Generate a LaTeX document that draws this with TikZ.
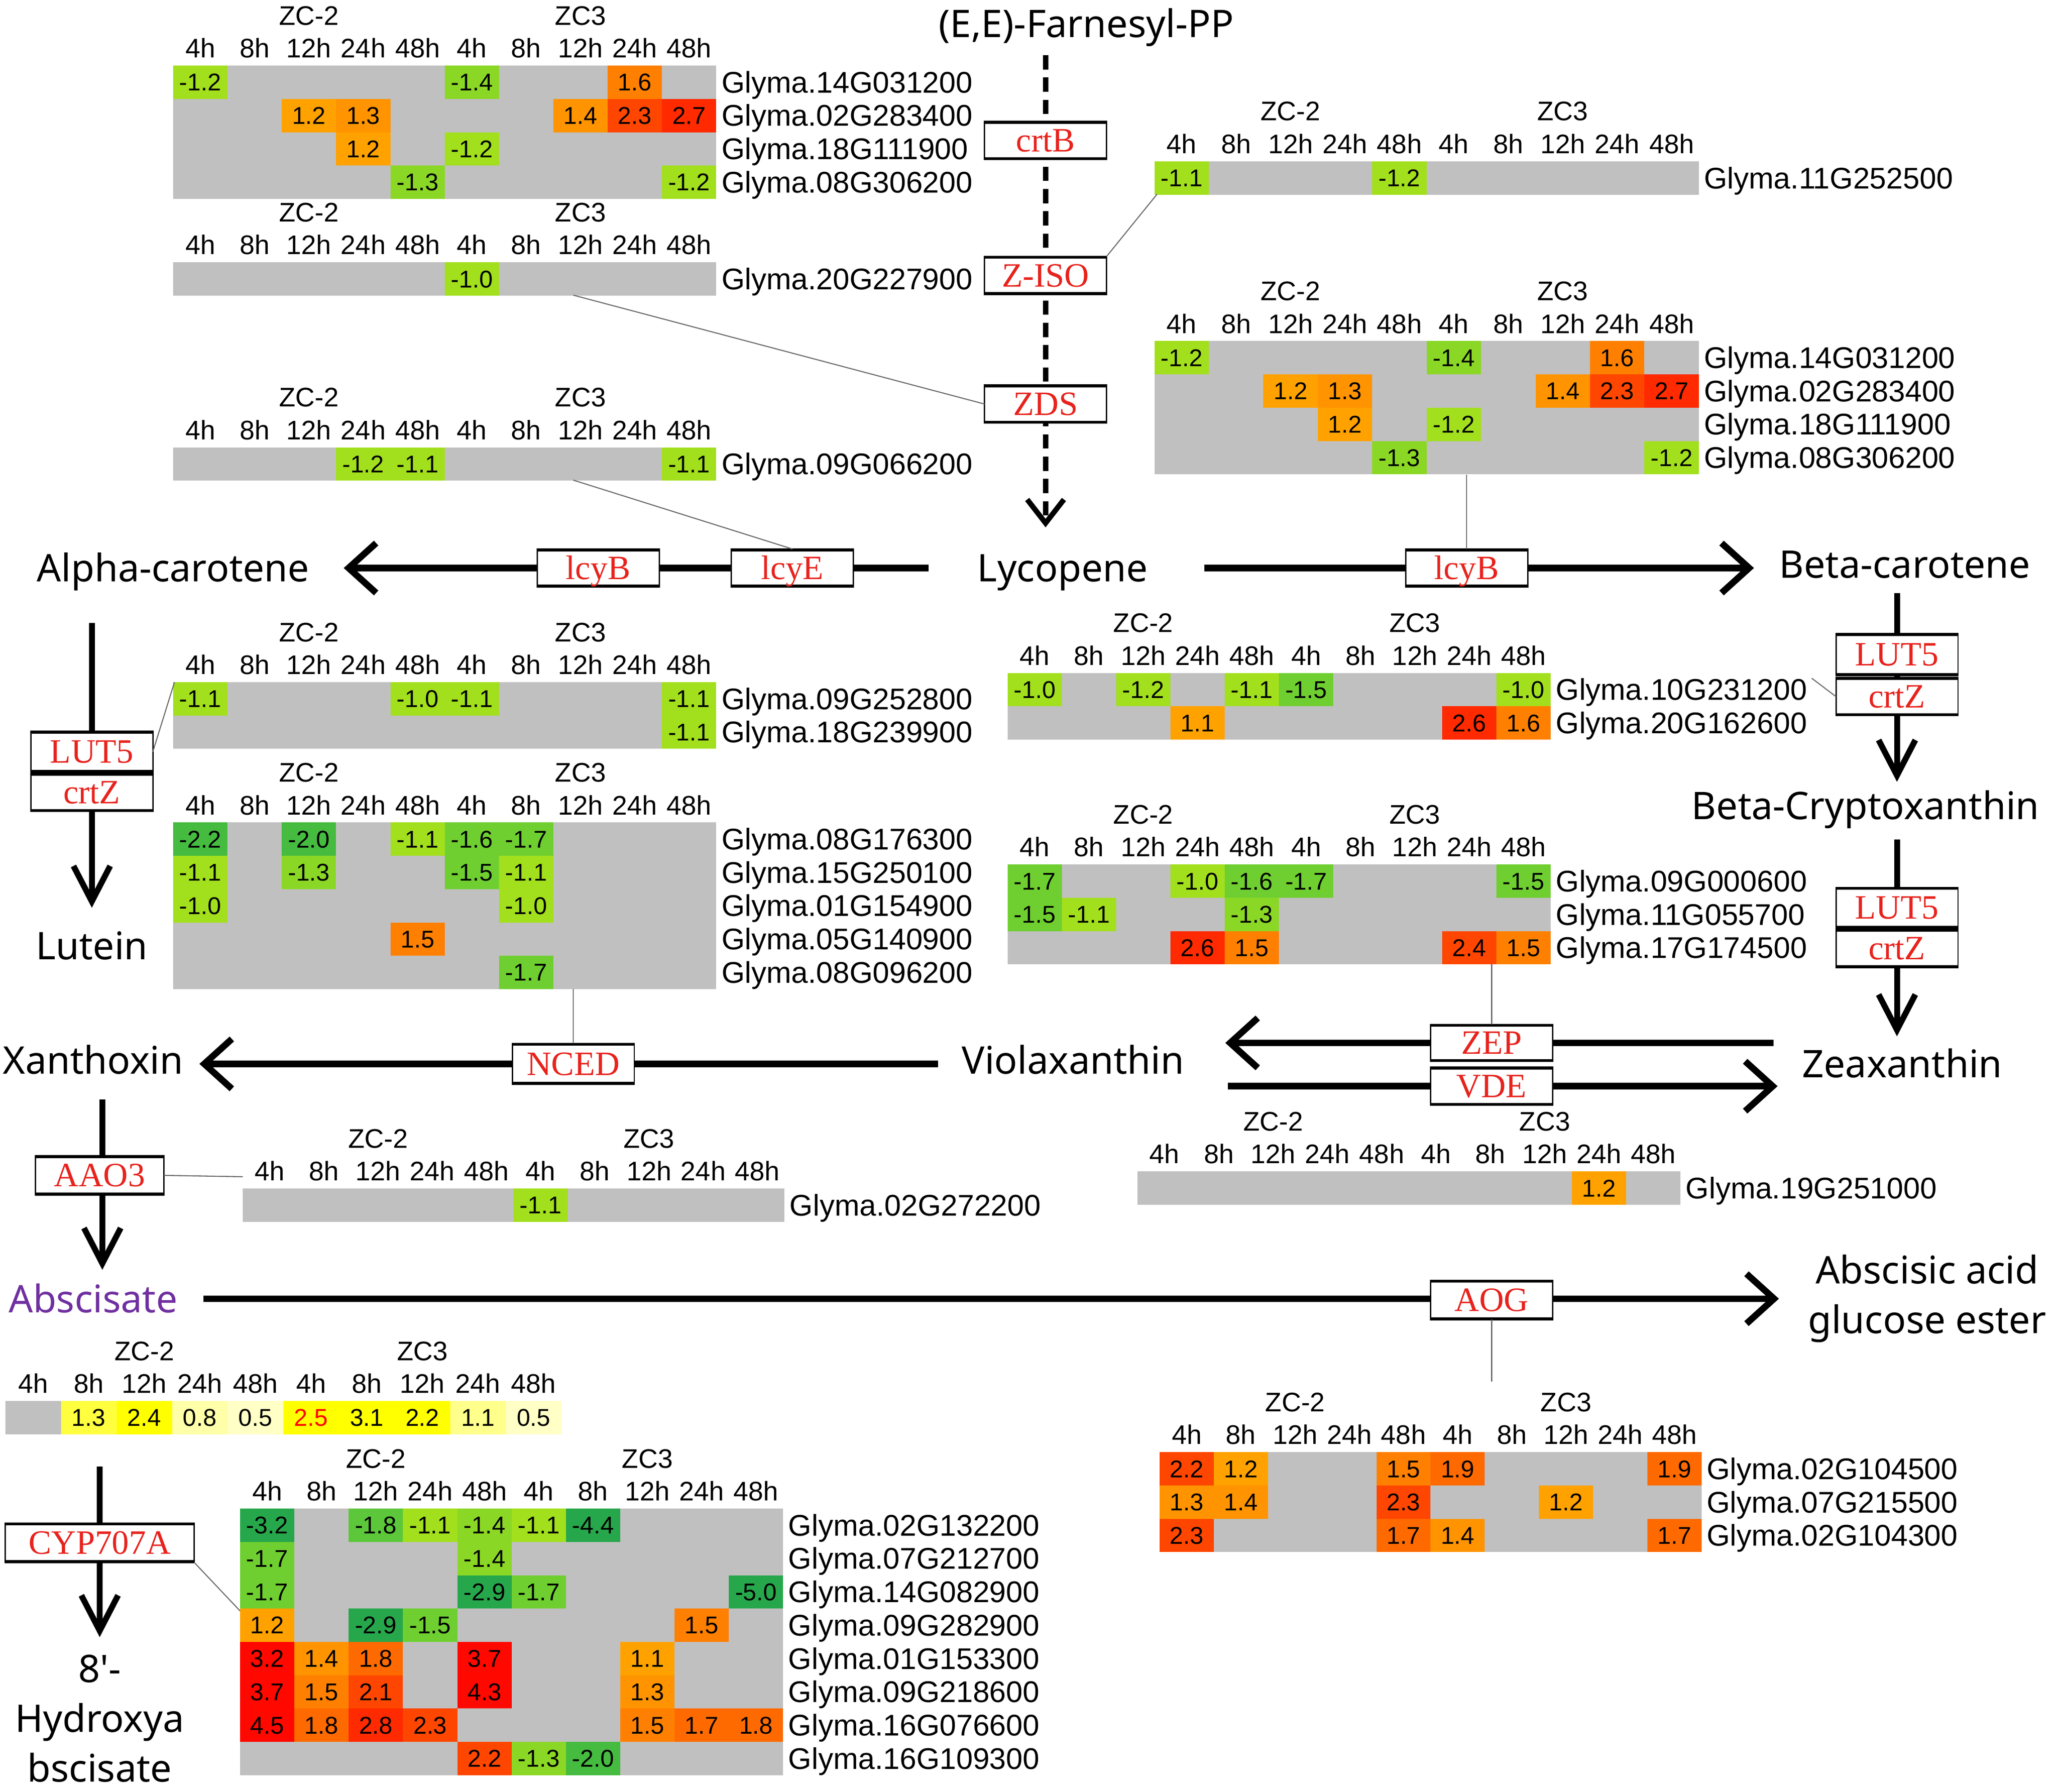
\documentclass[tikz,border=0pt]{standalone}
\usepackage{fontspec}
\setmainfont{Liberation Sans}
\newfontfamily\pathfont{Noto Sans}
\newfontfamily\enzfont{Liberation Serif}
\usetikzlibrary{arrows.meta}

\definecolor{hmgray}{HTML}{C0C0C0}
\definecolor{hmg0}{HTML}{A2DF1D}
\definecolor{hmg1}{HTML}{8BD726}
\definecolor{hmg2}{HTML}{6FCF30}
\definecolor{hmg3}{HTML}{5CC73A}
\definecolor{hmg4}{HTML}{45BB40}
\definecolor{hmg5}{HTML}{27A74B}
\definecolor{hmo1}{HTML}{FFA200}
\definecolor{hmo2}{HTML}{FF9400}
\definecolor{hmo3}{HTML}{FF8000}
\definecolor{hmo4}{HTML}{FF6A00}
\definecolor{hmr1}{HTML}{FF4600}
\definecolor{hmr2}{HTML}{FF2A00}
\definecolor{hmr3}{HTML}{FF0800}
\definecolor{yl1}{HTML}{FFFF00}
\definecolor{yl2}{HTML}{FFFF40}
\definecolor{yl3}{HTML}{FFFF8C}
\definecolor{yl4}{HTML}{FFFFAA}
\definecolor{yl5}{HTML}{FFFFC6}
\definecolor{enzred}{HTML}{E8221C}
\definecolor{abspurple}{HTML}{7030A0}
\definecolor{linkgray}{HTML}{6A6A6A}

\tikzset{every node/.style={inner sep=0pt, outer sep=0pt},
  tm/.style={font=\fontsize{20.5}{20.5}\selectfont, text height=14pt, text depth=0pt},
  zc/.style={font=\fontsize{20.5}{20.5}\selectfont, text height=14pt, text depth=0pt},
  cell/.style={minimum height=25.4pt, font=\fontsize{18.5}{18.5}\selectfont, text height=13pt, text depth=0pt},
  gene/.style={anchor=west, font=\fontsize{22.8}{22.8}\selectfont, text height=16pt, text depth=0pt},
  metfont/.style={font=\pathfont\fontsize{29}{38}\selectfont},
  met/.style={metfont, text height=21pt, text depth=0pt},
  enz/.style={draw, fill=white, line width=1pt, minimum width=93pt, minimum height=29pt,
    text=enzred, font=\enzfont\fontsize{26}{26}\selectfont, text height=17pt, text depth=0pt,
    path picture={\draw[line width=3.5pt] (path picture bounding box.north west) -- (path picture bounding box.north east)
                  (path picture bounding box.south west) -- (path picture bounding box.south east);}},
  harr/.style={line width=5pt, -{Straight Barb[length=21pt,width=38pt]}},
  varr/.style={line width=4.5pt, -{Straight Barb[length=27pt,width=28pt]}},
  darr/.style={line width=4pt, dash pattern=on 11pt off 6pt, -{Straight Barb[length=18pt,width=28pt]}},
  link/.style={draw=linkgray, line width=0.8pt}}

% colour of a heat map cell
\newcommand\hmcolor[1]{%
  \ifdim#1 pt<-2.5pt \def\hmc{g5}\else
  \ifdim#1 pt<-1.9pt \def\hmc{g4}\else
  \ifdim#1 pt<-1.75pt \def\hmc{g3}\else
  \ifdim#1 pt<-1.45pt \def\hmc{g2}\else
  \ifdim#1 pt<-1.25pt \def\hmc{g1}\else
  \ifdim#1 pt<0pt \def\hmc{g0}\else
  \ifdim#1 pt<1.25pt \def\hmc{o1}\else
  \ifdim#1 pt<1.45pt \def\hmc{o2}\else
  \ifdim#1 pt<1.65pt \def\hmc{o3}\else
  \ifdim#1 pt<2.05pt \def\hmc{o4}\else
  \ifdim#1 pt<2.45pt \def\hmc{r1}\else
  \ifdim#1 pt<3.0pt \def\hmc{r2}\else \def\hmc{r3}%
  \fi\fi\fi\fi\fi\fi\fi\fi\fi\fi\fi\fi}

% ZC-2 / ZC3 and time labels over a heat map
\newcommand\hmhead[2]{%
  \node[zc] (#1-zc2) at (2.5*#2,-38) {ZC-2};
  \node[zc] (#1-zc3) at (7.5*#2,-38) {ZC3};
  \foreach \t [count=\i] in {4h,8h,12h,24h,48h,4h,8h,12h,24h,48h}
    \node[tm] (#1-t\i) at (\i*#2-#2/2,-13) {\t};}

% name, top left, cell width, rows, cells, genes
\newcommand\hmap[6]{%
  \begin{scope}[shift={#2}]
    \fill[hmgray] (0,0) rectangle (10*#3,#4*25.4);
    \hmhead{#1}{#3}
    \foreach \c/\r/\v in {#5}{%
      \hmcolor{\v}%
      \node[cell, minimum width=#3pt, fill=hm\hmc] (#1-\r-\c) at (\c*#3-#3/2,\r*25.4-12.7) {\v};}
    \foreach \g [count=\r] in {#6}
      \node[gene] (#1-g\r) at (10*#3+4,\r*25.4-12.7) {\g};
  \end{scope}}

\begin{document}
\begin{tikzpicture}[x=1pt,y=-1pt]
\fill[white] (0,0) rectangle (1568,1366);
\useasboundingbox (0,0) rectangle (1568,1366);

% metabolites
\node[met] (farn) at (828,18) {(E,E)-Farnesyl-PP};
\node[met] (alpha) at (132,433) {Alpha-carotene};
\node[met] (lyco) at (810,433) {Lycopene};
\node[met] (beta) at (1452,430) {Beta-carotene};
\node[met] (lutein) at (70,721) {Lutein};
\node[met] (bcry) at (1422,614) {Beta-Cryptoxanthin};
\node[met] (zea) at (1450,811) {Zeaxanthin};
\node[met] (xan) at (71,808) {Xanthoxin};
\node[met] (viola) at (818,808) {Violaxanthin};
\node[met, text=abspurple] (absc) at (71,990) {Abscisate};
\node[metfont, align=center] (abage) at (1469,990) {Abscisic acid\\glucose ester};
\node[metfont, align=center] (hydroxy) at (76,1310) {8'-\\Hydroxya\\bscisate};

% reactions
\draw[darr] ([xshift=-31pt,yshift=-24pt]farn.center) -- ([xshift=-13pt,yshift=31pt]lyco.center);
\draw[harr] ([xshift=-102pt]lyco.center) -- ([xshift=130pt]alpha.center);
\draw[harr] ([xshift=108pt]lyco.center) -- ([xshift=-115pt,yshift=-3pt]beta.center);
\draw[varr] ([xshift=-62pt,yshift=-42pt]alpha.center) -- ([yshift=29pt]lutein.center);
\draw[varr] ([xshift=-6pt,yshift=-22pt]beta.center) -- ([xshift=24pt,yshift=18pt]bcry.center);
\draw[varr] ([xshift=24pt,yshift=-26pt]bcry.center) -- ([xshift=-4pt,yshift=21pt]zea.center);
\draw[harr] ([xshift=-103pt,yshift=-3pt]viola.center) -- ([xshift=81pt,yshift=-3pt]xan.center);
\draw[harr] ([xshift=-98pt,yshift=16pt]zea.center) -- ([xshift=116pt,yshift=13pt]viola.center);
\draw[harr] ([xshift=118pt,yshift=-20pt]viola.center) -- ([xshift=-95pt,yshift=-17pt]zea.center);
\draw[varr] ([xshift=7pt,yshift=-30pt]xan.center) -- ([xshift=7pt,yshift=22pt]absc.center);
\draw[harr] ([xshift=84pt]absc.center) -- ([xshift=-113pt]abage.center);
\draw[varr] ([xshift=5pt,yshift=-128pt]absc.center) -- ([yshift=62pt]hydroxy.center);

% enzymes
\node[enz] (crtb) at (797,107) {crtB};
\node[enz] (ziso) at (797,210) {Z-ISO};
\node[enz] (zds) at (797,308) {ZDS};
\node[enz] (lcybl) at (456,433) {lcyB};
\node[enz] (lcye) at (604,433) {lcyE};
\node[enz] (lcybr) at (1118,433) {lcyB};
\node[enz, minimum height=31pt] (luta) at (70,573) {LUT5};
\node[enz] (crtza) at (70,604) {crtZ};
\node[enz, minimum height=32pt] (lutb) at (1446,499) {LUT5};
\node[enz] (crtzb) at (1446,531) {crtZ};
\node[enz, minimum height=31pt] (lutc) at (1446,692) {LUT5};
\node[enz] (crtzc) at (1446,723) {crtZ};
\node[enz, minimum height=31pt] (nced) at (437,811) {NCED};
\node[enz, minimum height=28pt] (zep) at (1137,795) {ZEP};
\node[enz] (vde) at (1137,828) {VDE};
\node[enz, minimum width=98pt, minimum height=30pt] (aao) at (76,896) {AAO3};
\node[enz, minimum height=30pt] (aog) at (1137,991) {AOG};
\node[enz, minimum width=144pt, minimum height=30pt] (cyp) at (76,1176) {CYP707A};

% heat maps
\hmap{hcrtb}{(132,50)}{41.4}{4}{1/1/-1.2,6/1/-1.4,9/1/1.6,3/2/1.2,4/2/1.3,8/2/1.4,9/2/2.3,10/2/2.7,4/3/1.2,6/3/-1.2,5/4/-1.3,10/4/-1.2}
  {Glyma.14G031200,Glyma.02G283400,Glyma.18G111900,Glyma.08G306200}
\hmap{hzds}{(132,200)}{41.4}{1}{6/1/-1.0}{Glyma.20G227900}
\hmap{hziso}{(880,123)}{41.5}{1}{1/1/-1.1,5/1/-1.2}{Glyma.11G252500}
\hmap{hlcyb}{(880,260)}{41.5}{4}{1/1/-1.2,6/1/-1.4,9/1/1.6,3/2/1.2,4/2/1.3,8/2/1.4,9/2/2.3,10/2/2.7,4/3/1.2,6/3/-1.2,5/4/-1.3,10/4/-1.2}
  {Glyma.14G031200,Glyma.02G283400,Glyma.18G111900,Glyma.08G306200}
\hmap{hlcye}{(132,341)}{41.4}{1}{4/1/-1.2,5/1/-1.1,10/1/-1.1}{Glyma.09G066200}
\hmap{hluta}{(132,520)}{41.4}{2}{1/1/-1.1,5/1/-1.0,6/1/-1.1,10/1/-1.1,10/2/-1.1}{Glyma.09G252800,Glyma.18G239900}
\hmap{hnced}{(132,627)}{41.4}{5}{1/1/-2.2,3/1/-2.0,5/1/-1.1,6/1/-1.6,7/1/-1.7,1/2/-1.1,3/2/-1.3,6/2/-1.5,7/2/-1.1,1/3/-1.0,7/3/-1.0,5/4/1.5,7/5/-1.7}
  {Glyma.08G176300,Glyma.15G250100,Glyma.01G154900,Glyma.05G140900,Glyma.08G096200}
\hmap{hlutb}{(768,513)}{41.4}{2}{1/1/-1.0,3/1/-1.2,5/1/-1.1,6/1/-1.5,10/1/-1.0,4/2/1.1,9/2/2.6,10/2/1.6}{Glyma.10G231200,Glyma.20G162600}
\hmap{hzep}{(768,659)}{41.4}{3}{1/1/-1.7,4/1/-1.0,5/1/-1.6,6/1/-1.7,10/1/-1.5,1/2/-1.5,2/2/-1.1,5/2/-1.3,4/3/2.6,5/3/1.5,9/3/2.4,10/3/1.5}
  {Glyma.09G000600,Glyma.11G055700,Glyma.17G174500}
\hmap{hvde}{(867,893)}{41.4}{1}{9/1/1.2}{Glyma.19G251000}
\hmap{haao}{(185,906)}{41.3}{1}{6/1/-1.1}{Glyma.02G272200}
\hmap{hcyp}{(183,1150)}{41.4}{8}{1/1/-3.2,3/1/-1.8,4/1/-1.1,5/1/-1.4,6/1/-1.1,7/1/-4.4,1/2/-1.7,5/2/-1.4,1/3/-1.7,5/3/-2.9,6/3/-1.7,10/3/-5.0,
  1/4/1.2,3/4/-2.9,4/4/-1.5,9/4/1.5,1/5/3.2,2/5/1.4,3/5/1.8,5/5/3.7,8/5/1.1,1/6/3.7,2/6/1.5,3/6/2.1,5/6/4.3,8/6/1.3,
  1/7/4.5,2/7/1.8,3/7/2.8,4/7/2.3,8/7/1.5,9/7/1.7,10/7/1.8,5/8/2.2,6/8/-1.3,7/8/-2.0}
  {Glyma.02G132200,Glyma.07G212700,Glyma.14G082900,Glyma.09G282900,Glyma.01G153300,Glyma.09G218600,Glyma.16G076600,Glyma.16G109300}
\hmap{haog}{(884,1107)}{41.3}{3}{1/1/2.2,2/1/1.2,5/1/1.5,6/1/1.9,10/1/1.9,1/2/1.3,2/2/1.4,5/2/2.3,8/2/1.2,1/3/2.3,5/3/1.7,6/3/1.4,10/3/1.7}
  {Glyma.02G104500,Glyma.07G215500,Glyma.02G104300}

% abscisate content
\begin{scope}[shift={(4,1068)}]
  \fill[hmgray] (0,0) rectangle (424,25.4);
  \hmhead{habs}{42.4}
  \foreach \c/\v/\col/\tc in {2/1.3/yl2/black,3/2.4/yl1/black,4/0.8/yl4/black,5/0.5/yl5/black,6/2.5/yl1/red,
      7/3.1/yl1/black,8/2.2/yl1/black,9/1.1/yl3/black,10/0.5/yl5/black}
    \node[cell, minimum width=42.4pt, fill=\col, text=\tc] (habs-1-\c) at (\c*42.4-21.2,12.7) {\v};
\end{scope}

% links from enzymes to heat maps
\coordinate (hziso-c) at (882,148);
\coordinate (hzds-c) at (437,225);
\coordinate (hlcye-c) at (437,366);
\coordinate (hlcyb-c) at (1118,362);
\coordinate (hluta-c) at (133,520);
\coordinate (hlutb-c) at (1381,517);
\coordinate (hnced-c) at (437,754);
\coordinate (hzep-c) at (1137,735);
\coordinate (haao-c) at (185,897);
\coordinate (haog-c) at (1137,1053);
\coordinate (hcyp-c) at (183,1228);
\draw[link] (ziso.north east) -- (hziso-c);
\draw[link] (hzds-c) -- (zds.west);
\draw[link] (hlcye-c) -- (lcye.north);
\draw[link] (hlcyb-c) -- (lcybr.north);
\draw[link] (luta.east) -- (hluta-c);
\draw[link] (crtzb.west) -- (hlutb-c);
\draw[link] (hnced-c) -- (nced.north);
\draw[link] (hzep-c) -- (zep.north);
\draw[link] (aao.east) -- (haao-c);
\draw[link] (aog.south) -- (haog-c);
\draw[link] (cyp.south east) -- (hcyp-c);
\end{tikzpicture}
\end{document}
